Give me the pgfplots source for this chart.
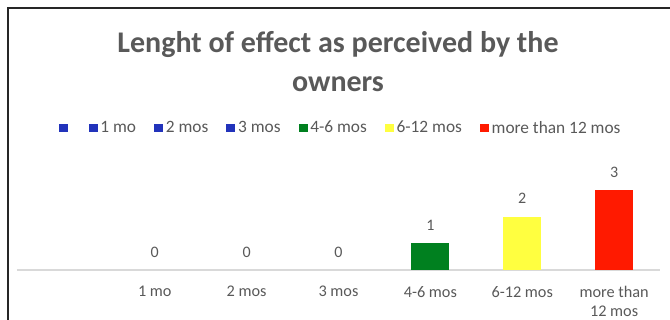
\documentclass[border=0pt]{standalone}
\usepackage{pgfplots}
\pgfplotsset{compat=1.18}
\usepackage{fontspec}
\setmainfont{Carlito}
\definecolor{txt}{HTML}{595959}
\definecolor{cblue}{HTML}{2233BB}
\definecolor{cgreen}{HTML}{00801F}
\definecolor{cyellow}{HTML}{FFFF40}
\definecolor{cred}{HTML}{FF1A00}
\definecolor{axgray}{HTML}{D9D9D9}
\begin{document}
\begin{tikzpicture}
\path[use as bounding box] (0,0) rectangle (502.5pt,240pt);
\draw[line width=1pt, black!85] (6pt,0) -- (6pt,234pt) -- (502.5pt,234pt);
\node[font=\bfseries\fontsize{22.5}{26}\selectfont, text=txt] at (253.5pt,206.25pt) {Lenght of effect as perceived by the};
\node[font=\bfseries\fontsize{22.5}{26}\selectfont, text=txt] at (253.5pt,177pt) {owners};
\begin{axis}[
  at={(12.75pt,37.5pt)}, anchor=south west,
  scale only axis, width=482.25pt, height=78.75pt,
  xmin=-0.5, xmax=6.5, ymin=0, ymax=3.93,
  ybar, bar width=28.5pt,
  /pgf/number format/assume math mode=true,
  hide y axis,
  axis x line*=bottom,
  x axis line style={-, draw=axgray, line width=0.8pt},
  xtick={1,2,3,4,5,6},
  xticklabels={1 mo,2 mos,3 mos,4-6 mos,6-12 mos,{more than\\12 mos}},
  xticklabel style={font=\fontsize{12.2}{14}\selectfont, text=txt, align=center, yshift=-8.5pt},
  major tick length=0pt,
  ytick=\empty,
  legend columns=-1,
  legend style={at={(0.504,1.352)}, anchor=center, draw=none, fill=none,
    font=\fontsize{13}{15}\selectfont, text=txt,
    /tikz/every even column/.append style={column sep=11.5pt},
    /tikz/every odd column/.append style={column sep=0pt}},
  sq/.style={legend image code/.code={\fill[#1] (0pt,-3.3pt) rectangle (6.8pt,3.3pt);}},
  lbl/.style={nodes near coords, every node near coord/.append style={font=\fontsize{12}{14}\selectfont, text=txt, yshift=6pt}},
]
\addplot[sq=cblue, fill=none, draw=none, bar shift=0pt] coordinates {(0,0)};
\addlegendentry{}
\addplot[sq=cblue, lbl, fill=none, draw=none, bar shift=0pt] coordinates {(1,0)};
\addlegendentry{1 mo}
\addplot[sq=cblue, lbl, fill=none, draw=none, bar shift=0pt] coordinates {(2,0)};
\addlegendentry{2 mos}
\addplot[sq=cblue, lbl, fill=none, draw=none, bar shift=0pt] coordinates {(3,0)};
\addlegendentry{3 mos}
\addplot[sq=cgreen, lbl, fill=cgreen, draw=none, bar shift=0pt] coordinates {(4,1)};
\addlegendentry{4-6 mos}
\addplot[sq=cyellow, lbl, fill=cyellow, draw=none, bar shift=0pt] coordinates {(5,2)};
\addlegendentry{6-12 mos}
\addplot[sq=cred, lbl, fill=cred, draw=none, bar shift=0pt] coordinates {(6,3)};
\addlegendentry{more than 12 mos}
\end{axis}
\end{tikzpicture}
\end{document}
